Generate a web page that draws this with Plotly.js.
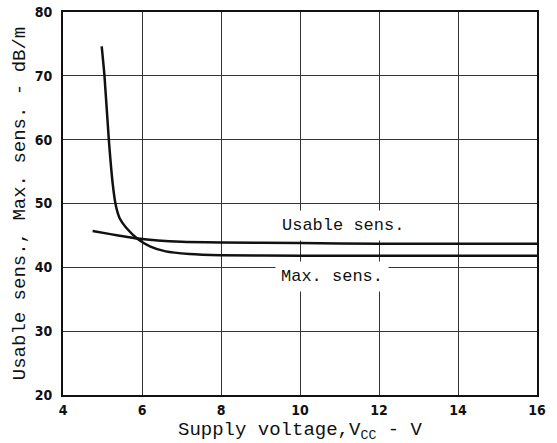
<!DOCTYPE html>
<html>
<head>
<meta charset="utf-8">
<script src="https://cdn.plot.ly/plotly-3.0.1.min.js"></script>
<style>
  html, body { margin: 0; padding: 0; background: white; }
  #chart { width: 557px; height: 443px; }
</style>
</head>
<body>
<div id="chart"></div>
<script>
// Curves (V, dB/m)
var usableV = [4.75, 5.2, 5.6, 5.9, 6.4, 7.0, 8.0, 10.0, 12.0, 14.0, 16.0];
var usableDb = [45.7, 45.2, 44.8, 44.5, 44.2, 44.0, 43.9, 43.8, 43.7, 43.7, 43.7];

var maxV = [4.98, 5.05, 5.16, 5.26, 5.34, 5.44, 5.6, 5.9, 6.2, 6.6, 7.2, 8.0, 10.0, 12.0, 16.0];
var maxDb = [74.6, 70.0, 60.0, 53.0, 49.6, 47.6, 46.2, 44.4, 43.3, 42.5, 42.1, 41.9, 41.8, 41.8, 41.8];

var xTicks = [4, 6, 8, 10, 12, 14, 16];
var yTicks = [20, 30, 40, 50, 60, 70, 80];

var labelText = ["Usable sens.", "Max. sens."];
var labelV = [11.1, 10.8];
var labelDb = [46.6, 38.6];

var traces = [
    {
        x: usableV,
        y: usableDb,
        mode: "lines",
        line: { color: "#111", width: 2.5, shape: "spline", smoothing: 0.6 },
        hoverinfo: "skip"
    },
    {
        x: maxV,
        y: maxDb,
        mode: "lines",
        line: { color: "#111", width: 2.5, shape: "spline", smoothing: 0.5 },
        hoverinfo: "skip"
    }
];

var annots = [];
for (var i = 0; i < labelText.length; i++) {
    annots.push({
        x: labelV[i],
        y: labelDb[i],
        xref: "x",
        yref: "y",
        text: labelText[i],
        showarrow: false,
        bgcolor: "white",
        borderpad: 5,
        font: { family: "Liberation Mono, Courier New, monospace", size: 17, color: "#111" }
    });
}

var tickFont = { family: "DejaVu Sans Condensed, DejaVu Sans, sans-serif", size: 14, weight: "bold", color: "#111" };
var titleFont = { family: "Liberation Mono, Courier New, monospace", size: 19, color: "#111" };

var layout = {
    width: 557,
    height: 443,
    paper_bgcolor: "white",
    plot_bgcolor: "white",
    showlegend: false,
    margin: { l: 63, r: 20, t: 12, b: 48 },
    xaxis: {
        range: [4, 16],
        tickvals: xTicks,
        ticktext: xTicks.map(String),
        tickfont: tickFont,
        ticks: "",
        ticklabelstandoff: 1,
        showgrid: true,
        gridcolor: "#333",
        gridwidth: 1,
        zeroline: false,
        showline: true,
        linecolor: "#111",
        linewidth: 2,
        mirror: true,
        title: {
            text: "Supply voltage,V<sub>CC</sub> - V",
            font: titleFont,
            standoff: 5
        }
    },
    yaxis: {
        range: [20, 80],
        tickvals: yTicks,
        ticktext: yTicks.map(String),
        tickfont: tickFont,
        ticks: "",
        ticklabelstandoff: 6,
        showgrid: true,
        gridcolor: "#333",
        gridwidth: 1,
        zeroline: false,
        showline: true,
        linecolor: "#111",
        linewidth: 2,
        mirror: true,
        title: {
            text: "Usable sens., Max. sens. - dB/m",
            font: titleFont,
            standoff: 4
        }
    },
    annotations: annots
};

Plotly.newPlot("chart", traces, layout, { staticPlot: true });
</script>
</body>
</html>
